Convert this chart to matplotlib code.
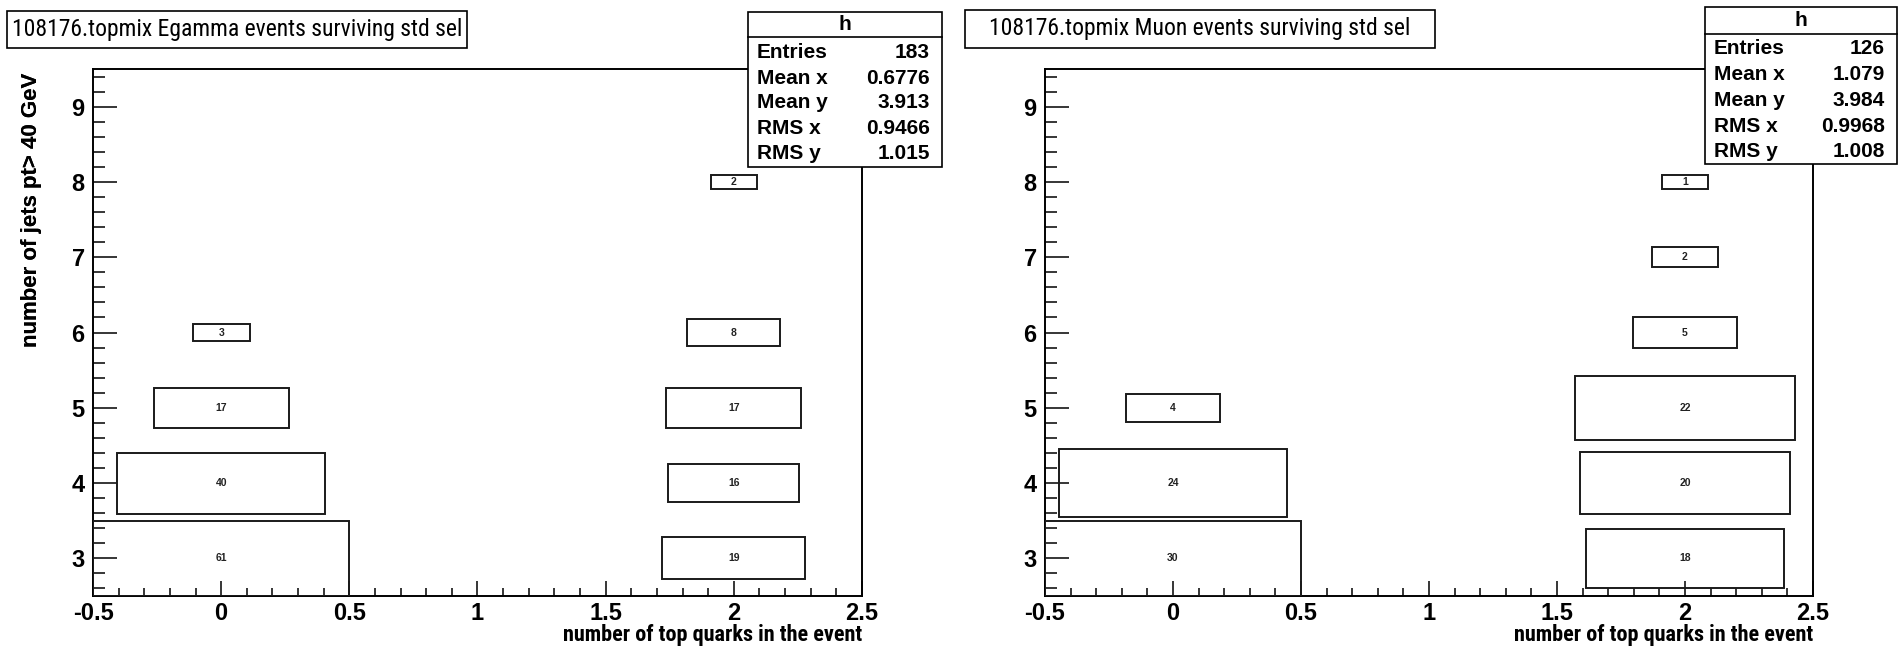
import numpy as np
import matplotlib
matplotlib.use('Agg')
import matplotlib.pyplot as plt
from matplotlib.patches import Rectangle
from matplotlib.ticker import MultipleLocator
from matplotlib import font_manager

# ROOT's Helvetica: some texts come out narrow, some normal width
names = {f.name for f in font_manager.fontManager.ttflist}
narrow = 'Liberation Sans'
for cand in ['Roboto Condensed', 'Liberation Sans Narrow', 'Archivo Narrow']:
    if cand in names:
        narrow = cand
        break
wide = 'Liberation Sans'
plt.rcParams['font.family'] = [wide, 'DejaVu Sans']

# Egamma histogram bins (x = number of top quarks, y = number of jets)
eg_x = [0, 0, 0, 0, 2, 2, 2, 2, 2]
eg_y = [3, 4, 5, 6, 3, 4, 5, 6, 8]
eg_n = [61, 40, 17, 3, 19, 16, 17, 8, 2]
eg_title = "108176.topmix Egamma events surviving std sel"
eg_stats = ["183", "0.6776", "3.913", "0.9466", "1.015"]

# Muon histogram bins
mu_x = [0, 0, 0, 2, 2, 2, 2, 2, 2]
mu_y = [3, 4, 5, 3, 4, 5, 6, 7, 8]
mu_n = [30, 24, 4, 18, 20, 22, 5, 2, 1]
mu_title = "108176.topmix Muon events surviving std sel"
mu_stats = ["126", "1.079", "3.984", "0.9968", "1.008"]

stat_names = ["Entries", "Mean x", "Mean y", "RMS x", "RMS y"]
xlab = "number of top quarks in the event"
ylab = "number of jets pt> 40 GeV"

W, H = 1899, 648
fig = plt.figure(figsize=(W / 100, H / 100), dpi=100)


def figrect(x0, y0, x1, y1, **kw):
    r = Rectangle((x0 / W, 1 - y1 / H), (x1 - x0) / W, (y1 - y0) / H,
                  transform=fig.transFigure, **kw)
    fig.add_artist(r)
    return r


def panel(left, right, bx, by, bn, title, tbox, stats, sbox, rows):
    top, bot = 69, 596
    ax = fig.add_axes([left / W, 1 - bot / H, (right - left) / W, (bot - top) / H])
    ax.set_xlim(-0.5, 2.5)
    ax.set_ylim(2.5, 9.5)
    nmax = max(bn)
    # ROOT "BOX": side of each box ~ sqrt(content / max)
    for x, y, n in zip(bx, by, bn):
        s = np.sqrt(n / nmax)
        ax.add_patch(Rectangle((x - s / 2, y - s / 2), s, s, fill=False,
                               ec='#1a1a1a', lw=1.4, zorder=3))
        ax.text(x, y, str(n), ha='center', va='center', fontsize=7.5,
                fontweight='bold', color='#222222')
    ax.set_xticks(np.arange(-0.5, 2.51, 0.5))
    ax.set_xticklabels(['-0.5', '0', '0.5', '1', '1.5', '2', '2.5'])
    ax.xaxis.set_minor_locator(MultipleLocator(0.1))
    ax.yaxis.set_major_locator(MultipleLocator(1))
    ax.yaxis.set_minor_locator(MultipleLocator(0.2))
    ax.tick_params(axis='x', which='major', direction='in', length=11, width=1.1,
                   labelsize=17, pad=4)
    ax.tick_params(axis='x', which='minor', direction='in', length=5.5, width=1.1)
    ax.tick_params(axis='y', which='major', direction='in', length=17, width=1.1,
                   labelsize=17, pad=6)
    ax.tick_params(axis='y', which='minor', direction='in', length=8.5, width=1.1)
    for lab in ax.get_xticklabels() + ax.get_yticklabels():
        lab.set_fontweight('bold')
    for sp in ax.spines.values():
        sp.set_linewidth(1.4)
    ax.set_xlabel(xlab, fontsize=16, fontweight='bold', loc='right', family=narrow)
    ax.xaxis.set_label_coords(1.0, -(635 - bot) / (bot - top))
    ax.xaxis.label.set_va('center')
    ax.set_ylabel(ylab, fontsize=16, fontweight='bold', loc='top')
    ax.yaxis.set_label_coords(-(left - 32) / (right - left), 1 - (73 - top) / (bot - top))
    ax.yaxis.label.set_va('center')

    # title box
    x0, y0, x1, y1 = tbox
    figrect(x0, y0, x1, y1, fc='white', ec='black', lw=1.2, zorder=5)
    fig.text((x0 + x1) / 2 / W, 1 - (y0 + y1) / 2 / H, title, ha='center',
             va='center', fontsize=17, family=narrow, zorder=6)

    # stats box
    x0, y0, xd, x1, y1 = sbox
    figrect(x0, y0, x1, y1, fc='white', ec='black', lw=1.2, zorder=5)
    fig.add_artist(plt.Line2D([x0 / W, x1 / W], [1 - xd / H, 1 - xd / H],
                              transform=fig.transFigure, color='black', lw=1.2, zorder=6))
    fig.text((x0 + x1) / 2 / W, 1 - (y0 + xd) / 2 / H, 'h', ha='center', va='center',
             fontsize=15, fontweight='bold', zorder=6)
    for nm, v, yy in zip(stat_names, stats, rows):
        fig.text((x0 + 9) / W, 1 - yy / H, nm, ha='left', va='center',
                 fontsize=15, fontweight='bold', zorder=6)
        fig.text((x1 - 12) / W, 1 - yy / H, v, ha='right', va='center',
                 fontsize=15, fontweight='bold', zorder=6)
    return ax


panel(93, 862, eg_x, eg_y, eg_n, eg_title, (7, 11, 467, 48), eg_stats,
      (748, 12, 37, 942, 167), [52, 78, 103, 129, 154])
panel(1045, 1813, mu_x, mu_y, mu_n, mu_title, (965, 10, 1435, 48), mu_stats,
      (1705, 7, 34, 1897, 164), [49, 75, 100, 127, 152])

fig.savefig('out.png', dpi=100, facecolor='white')
